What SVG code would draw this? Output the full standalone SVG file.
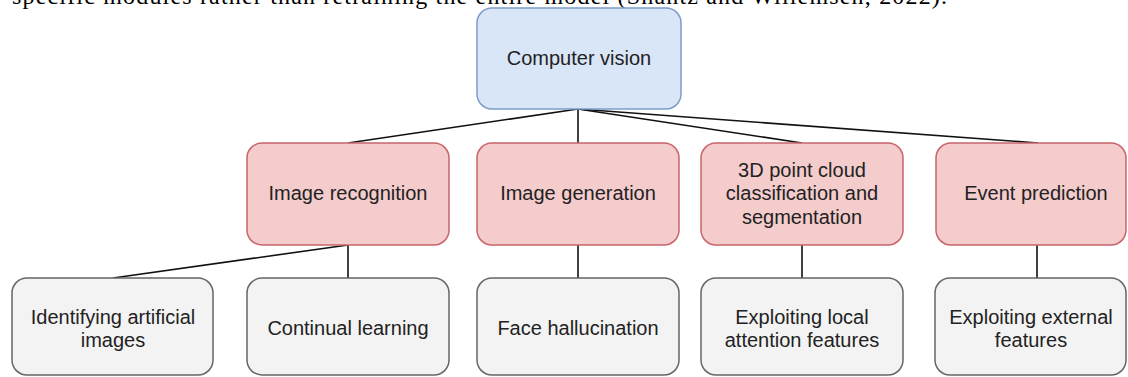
<svg xmlns="http://www.w3.org/2000/svg" width="1128" height="377" viewBox="0 0 1128 377">
  <style>
    .t { font-family: "Liberation Sans", Arial, sans-serif; font-size: 20px; fill: #222; text-anchor: middle; }
    .blue { fill: #d9e6f8; stroke: #7f9cc7; stroke-width: 1.5; }
    .red { fill: #f4cccc; stroke: #c8646a; stroke-width: 1.5; }
    .gray { fill: #f3f3f3; stroke: #666; stroke-width: 1.5; }
    .c line { stroke: #111; stroke-width: 1.6; }
    .para { font-family: "Liberation Serif", "Times New Roman", serif; font-size: 24px; fill: #000; }
  </style>
  <rect width="1128" height="377" fill="#fff"/>
  <text class="para" x="12" y="4" textLength="935" lengthAdjust="spacing">specific modules rather than retraining the entire model (Shantz and Willemsen, 2022).</text>
  <g id="connectors" class="c">
    <line x1="578" y1="109" x2="348" y2="143"/>
    <line x1="578" y1="109" x2="578" y2="143"/>
    <line x1="578" y1="109" x2="802" y2="143"/>
    <line x1="578" y1="109" x2="1038" y2="143"/>
    <line x1="348" y1="245" x2="113" y2="278"/>
    <line x1="348" y1="245" x2="348" y2="278"/>
    <line x1="578" y1="245" x2="578" y2="278"/>
    <line x1="802" y1="245" x2="802" y2="278"/>
    <line x1="1037" y1="245" x2="1037" y2="278"/>
  </g>
  <g id="computer-vision">
    <rect class="blue" x="477" y="8" width="204" height="101" rx="15"/>
    <text class="t" x="579" y="65">Computer vision</text>
  </g>
  <g id="image-recognition">
    <rect class="red" x="247" y="143" width="202" height="102" rx="15"/>
    <text class="t" x="348" y="200">Image recognition</text>
  </g>
  <g id="image-generation">
    <rect class="red" x="477" y="143" width="202" height="102" rx="15"/>
    <text class="t" x="578" y="200">Image generation</text>
  </g>
  <g id="point-cloud">
    <rect class="red" x="701" y="143" width="202" height="102" rx="15"/>
    <text class="t" x="802" y="177">3D point cloud</text>
    <text class="t" x="802" y="200">classification and</text>
    <text class="t" x="802" y="224">segmentation</text>
  </g>
  <g id="event-prediction">
    <rect class="red" x="936" y="143" width="190" height="102" rx="15"/>
    <text class="t" x="1036" y="200">Event prediction</text>
  </g>
  <g id="identifying-artificial">
    <rect class="gray" x="12" y="278" width="201" height="97" rx="15"/>
    <text class="t" x="113" y="324">Identifying artificial</text>
    <text class="t" x="113" y="347">images</text>
  </g>
  <g id="continual-learning">
    <rect class="gray" x="247" y="278" width="202" height="97" rx="15"/>
    <text class="t" x="348" y="335">Continual learning</text>
  </g>
  <g id="face-hallucination">
    <rect class="gray" x="477" y="278" width="202" height="97" rx="15"/>
    <text class="t" x="578" y="335">Face hallucination</text>
  </g>
  <g id="exploiting-local">
    <rect class="gray" x="701" y="278" width="202" height="97" rx="15"/>
    <text class="t" x="802" y="324">Exploiting local</text>
    <text class="t" x="802" y="347">attention features</text>
  </g>
  <g id="exploiting-external">
    <rect class="gray" x="935" y="278" width="191" height="97" rx="15"/>
    <text class="t" x="1031" y="324">Exploiting external</text>
    <text class="t" x="1031" y="347">features</text>
  </g>
</svg>
